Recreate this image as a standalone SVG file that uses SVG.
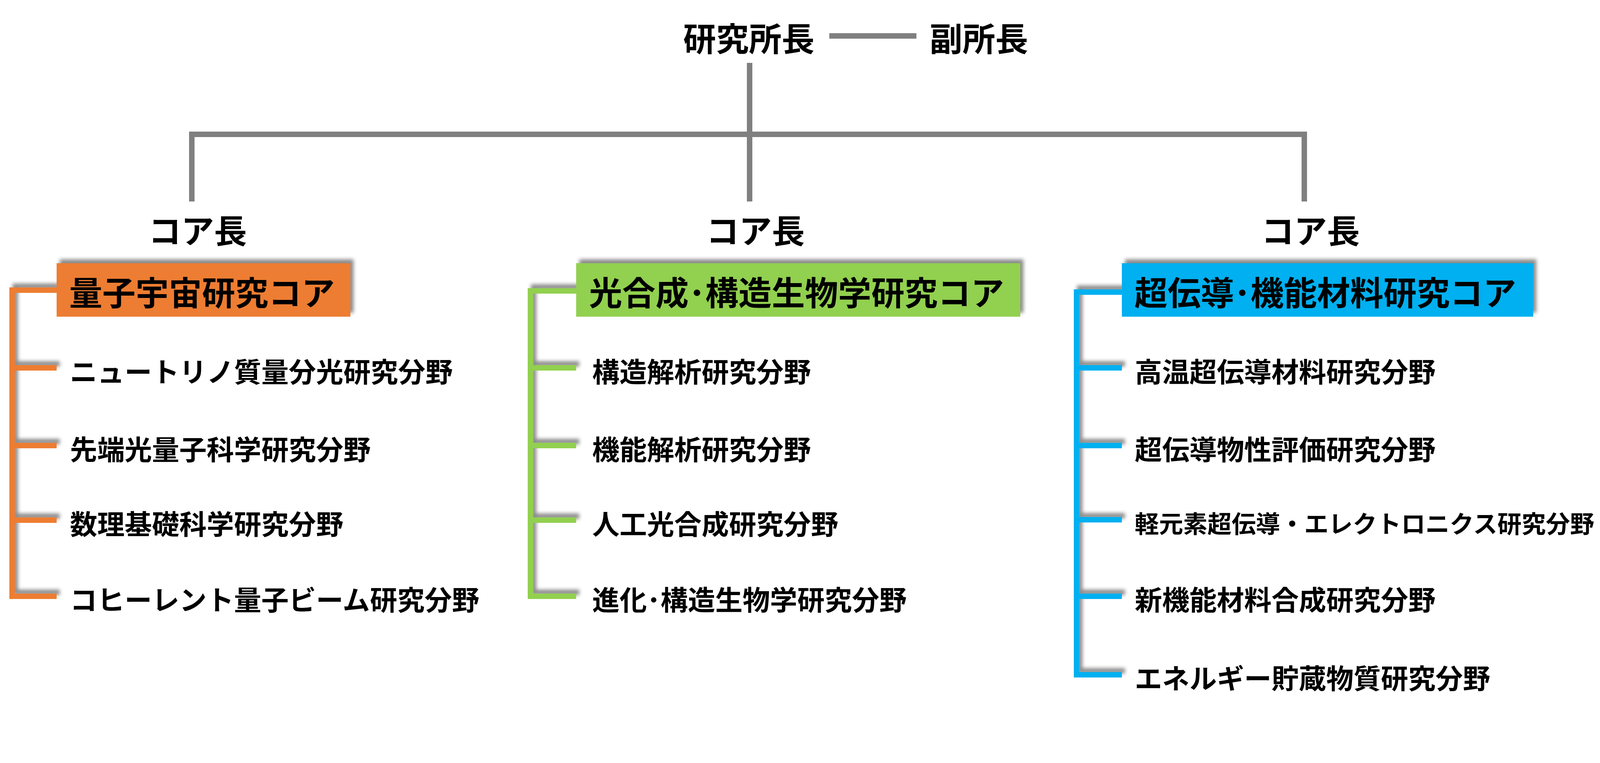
<svg xmlns="http://www.w3.org/2000/svg" width="4290" height="1954" viewBox="0 0 4290 1954">
<defs>
<filter id="sh" x="-20%" y="-20%" width="140%" height="140%">
<feDropShadow dx="8" dy="-10" stdDeviation="5" flood-color="#000" flood-opacity="0.45"/>
</filter>
<style>
text{font-family:"Noto Sans CJK JP","Noto Sans CJK SC",sans-serif;font-weight:bold;fill:#000}
.top{font-size:84px}
.chief{font-size:84px;text-anchor:middle}
.core{font-size:85px}
.sub{font-size:70px}
.gray{stroke:#808080;stroke-width:14;fill:none}
.or{stroke:#ED7D31;stroke-width:14;fill:none}
.gr{stroke:#92D050;stroke-width:14;fill:none}
.bl{stroke:#00B0F0;stroke-width:14;fill:none}
</style>
</defs>
<rect width="4290" height="1954" fill="#fff"/>

<g id="connectors">
<line class="gray" x1="2123" y1="92" x2="2346" y2="92"/>
<line class="gray" x1="1919" y1="161" x2="1919" y2="516"/>
<path class="gray" d="M491,516 V344 H3339 V516"/>
<g filter="url(#sh)">
<path class="or" d="M145,743 H31 V1527 H145 M31,942 H145 M31,1141 H145 M31,1332 H145"/>
<path class="gr" d="M1475,745 H1358 V1527 H1475 M1358,942 H1475 M1358,1141 H1475 M1358,1332 H1475"/>
<path class="bl" d="M2872,748 H2756 V1728 H2872 M2756,942 H2872 M2756,1141 H2872 M2756,1331 H2872 M2756,1527 H2872"/>
</g>
</g>

<g id="director"><text class="top" x="1749" y="131">研究所長</text></g>
<g id="vice-director"><text class="top" x="2380" y="131">副所長</text></g>

<g id="chief-1"><text class="chief" x="506" y="623">コア長</text></g>
<g id="chief-2"><text class="chief" x="1934" y="623">コア長</text></g>
<g id="chief-3"><text class="chief" x="3355" y="623">コア長</text></g>

<g id="core-1"><rect x="145" y="674" width="752" height="137" fill="#ED7D31" filter="url(#sh)"/><text class="core" x="177" y="782">量子宇宙研究コア</text></g>
<g id="core-2"><rect x="1475" y="674" width="1137" height="137" fill="#92D050" filter="url(#sh)"/><text class="core" x="1508" y="782">光合成･構造生物学研究コア</text></g>
<g id="core-3"><rect x="2872" y="674" width="1053" height="137" fill="#00B0F0" filter="url(#sh)"/><text class="core" x="2904" y="782">超伝導･機能材料研究コア</text></g>

<g id="field-1-1"><text class="sub" x="179" y="979">ニュートリノ質量分光研究分野</text></g>
<g id="field-1-2"><text class="sub" x="179" y="1178">先端光量子科学研究分野</text></g>
<g id="field-1-3"><text class="sub" x="179" y="1369">数理基礎科学研究分野</text></g>
<g id="field-1-4"><text class="sub" x="179" y="1563">コヒーレント量子ビーム研究分野</text></g>

<g id="field-2-1"><text class="sub" x="1516" y="979">構造解析研究分野</text></g>
<g id="field-2-2"><text class="sub" x="1516" y="1178">機能解析研究分野</text></g>
<g id="field-2-3"><text class="sub" x="1516" y="1369">人工光合成研究分野</text></g>
<g id="field-2-4"><text class="sub" x="1516" y="1563">進化･構造生物学研究分野</text></g>

<g id="field-3-1"><text class="sub" x="2905" y="979">高温超伝導材料研究分野</text></g>
<g id="field-3-2"><text class="sub" x="2905" y="1178">超伝導物性評価研究分野</text></g>
<g id="field-3-3"><text class="sub" x="2905" y="1365" style="font-size:62px">軽元素超伝導・エレクトロニクス研究分野</text></g>
<g id="field-3-4"><text class="sub" x="2905" y="1563">新機能材料合成研究分野</text></g>
<g id="field-3-5"><text class="sub" x="2905" y="1764">エネルギー貯蔵物質研究分野</text></g>
</svg>
